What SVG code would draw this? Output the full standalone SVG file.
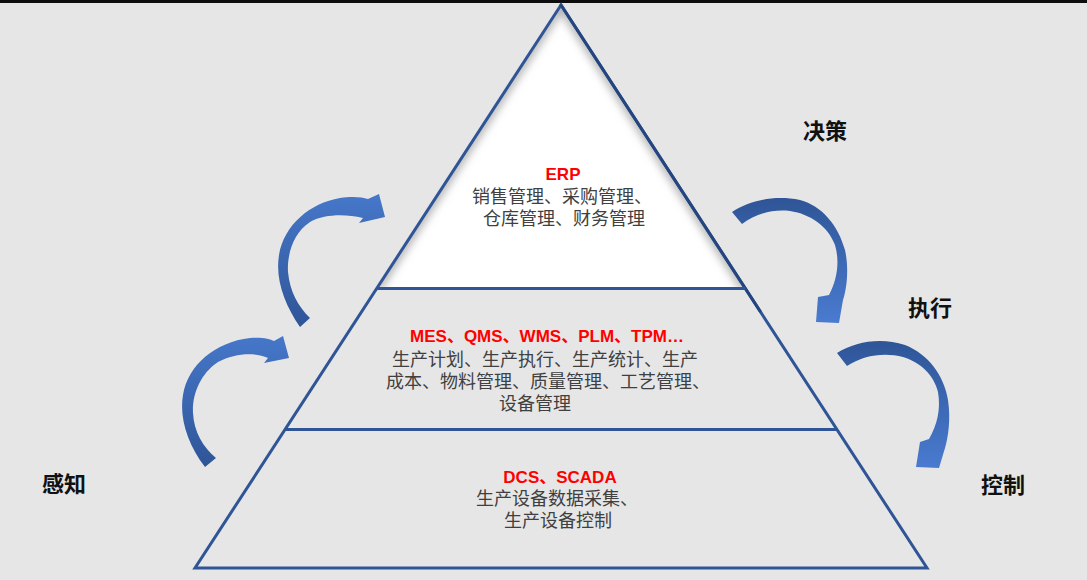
<svg xmlns="http://www.w3.org/2000/svg" width="1087" height="580" viewBox="0 0 1087 580">
  <defs>
    <style>
      .edge { fill: none; stroke: #2f5597; stroke-width: 3; stroke-linejoin: miter; }
      .edge-dark { fill: none; stroke: #24457f; stroke-width: 3; stroke-linecap: round; }
      .title { font-family: "Liberation Sans", "Noto Sans CJK SC", sans-serif; font-weight: 700; font-size: 17px; fill: #ff0000; text-anchor: middle; }
      .body { font-family: "Noto Sans CJK SC", "Noto Sans", sans-serif; font-size: 18px; fill: #404040; text-anchor: middle; }
      .side { font-family: "Noto Sans CJK SC", "Noto Sans", sans-serif; font-size: 22px; font-weight: 700; fill: #111111; text-anchor: middle; }
    </style>
    <linearGradient id="gLeft" x1="0" y1="0" x2="0" y2="1">
      <stop offset="0" stop-color="#4677c9"/>
      <stop offset="1" stop-color="#2f5597"/>
    </linearGradient>
    <linearGradient id="gRight" x1="0" y1="0" x2="0" y2="1">
      <stop offset="0" stop-color="#2f5597"/>
      <stop offset="1" stop-color="#4a7bd0"/>
    </linearGradient>
    <clipPath id="topClip">
      <polygon points="561,5 376.7,288.5 745.3,288.5"/>
    </clipPath>
    <filter id="soft" x="-10%" y="-10%" width="120%" height="120%">
      <feGaussianBlur stdDeviation="4"/>
    </filter>
  </defs>

  <rect x="0" y="0" width="1087" height="580" fill="#e6e6e6"/>
  <rect x="0" y="0" width="1087" height="3" fill="#0d0d0d"/>

  <g id="layer-erp">
    <polygon points="561,5 376.7,288.5 745.3,288.5" fill="#ffffff"/>
    <g clip-path="url(#topClip)">
      <polyline points="376.7,288.5 561,5 745.3,288.5" fill="none" stroke="#b0b0b0" stroke-width="9" filter="url(#soft)"/>
    </g>
    <text class="title" x="563" y="180">ERP</text>
    <text class="body" x="562" y="203">销售管理、采购管理、</text>
    <text class="body" x="564" y="225">仓库管理、财务管理</text>
  </g>

  <g id="layer-mes">
    <text class="title" x="547" y="342">MES、QMS、WMS、PLM、TPM…</text>
    <text class="body" x="545" y="366">生产计划、生产执行、生产统计、生产</text>
    <text class="body" x="548" y="388">成本、物料管理、质量管理、工艺管理、</text>
    <text class="body" x="535" y="410">设备管理</text>
  </g>

  <g id="layer-dcs">
    <text class="title" x="560" y="483">DCS、SCADA</text>
    <text class="body" x="557" y="505">生产设备数据采集、</text>
    <text class="body" x="558" y="527">生产设备控制</text>
  </g>

  <g id="pyramid-frame">
    <polygon class="edge" points="561,5 195,568 927,568"/>
    <line class="edge-dark" x1="561" y1="5" x2="760" y2="311"/>
    <line class="edge" x1="376.7" y1="288.5" x2="745.3" y2="288.5"/>
    <line class="edge" x1="285" y1="429.5" x2="837" y2="429.5"/>
  </g>

  <g id="label-decide"><text class="side" x="825" y="139">决策</text></g>
  <g id="label-execute"><text class="side" x="930" y="316">执行</text></g>
  <g id="label-sense"><text class="side" x="64" y="492">感知</text></g>
  <g id="label-control"><text class="side" x="1003" y="493">控制</text></g>

  <g id="connectors">
    <path fill="url(#gLeft)" d="M300,327 C285,305 275,280 279,255 C284,225 310,203 340,198 C352,196 362,197 368,199 L379,194 L385,217 L359,223 L363,218 C345,214 325,214 310,222 C293,233 287,255 288,272 C290,292 298,306 310,318 Z"/>
    <path fill="url(#gLeft)" d="M205,467 C188,445 179,418 183,395 C188,365 215,342 250,338 C262,337 270,339 274,341 L283,336 L289,358 L264,363 L268,358 C255,352 235,353 218,362 C200,374 192,395 193,413 C194,432 203,447 216,458 Z"/>
    <path fill="url(#gRight)" d="M732,212 C750,200 775,195 800,200 C822,206 838,225 845,250 C849,268 847,288 843,300 L839,323 L816,322 L818,297 L829,295 C837,280 840,262 835,245 C828,226 810,214 790,211 C772,209 755,214 742,224 Z"/>
    <path fill="url(#gRight)" d="M837,353 C855,342 880,337 905,345 C928,354 944,375 948,400 C951,420 948,438 945,448 L939,468 L916,467 L920,442 L929,439 C937,425 941,410 938,392 C934,375 920,362 903,357 C885,352 863,355 847,366 Z"/>
  </g>
</svg>
